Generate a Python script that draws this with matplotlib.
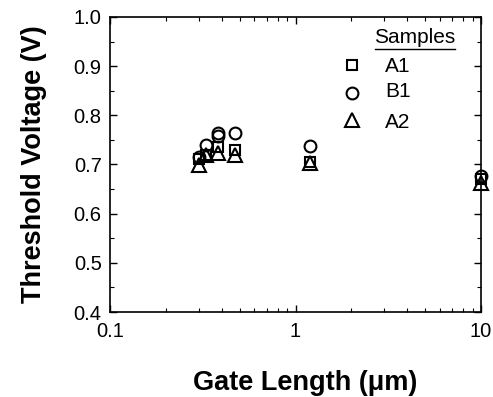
import matplotlib
matplotlib.use("Agg")
import matplotlib.pyplot as plt
from matplotlib.ticker import LogLocator, MultipleLocator, FixedLocator, FixedFormatter, NullFormatter

plt.rcParams['font.family'] = ['Liberation Sans', 'DejaVu Sans']

# Data (gate length in um, threshold voltage in V)
len_A1 = [0.30, 0.33, 0.38, 0.47, 1.2, 10]
vth_A1 = [0.712, 0.720, 0.735, 0.730, 0.705, 0.670]
len_B1 = [0.30, 0.33, 0.38, 0.38, 0.47, 1.2, 10]
vth_B1 = [0.716, 0.740, 0.765, 0.757, 0.765, 0.738, 0.676]
len_A2 = [0.30, 0.33, 0.38, 0.47, 1.2, 10]
vth_A2 = [0.699, 0.719, 0.723, 0.720, 0.703, 0.663]

sample_names = ["A1", "B1", "A2"]
x_ticks = [0.1, 1, 10]
x_ticklabels = ["0.1", "1", "10"]
y_ticks = [0.4, 0.5, 0.6, 0.7, 0.8, 0.9, 1.0]

fig = plt.figure(figsize=(4.93, 3.97), dpi=100)
ax = fig.add_axes([0.2231, 0.2141, 0.7526, 0.7431])

mk = dict(linestyle='none', markerfacecolor='none', markeredgecolor='black',
          markeredgewidth=1.5, clip_on=False)
ax.plot(len_A1, vth_A1, marker='s', markersize=7.5, **mk)
ax.plot(len_B1, vth_B1, marker='o', markersize=8.5, **mk)
ax.plot(len_A2, vth_A2, marker='^', markersize=10, **mk)

ax.set_xscale('log')
ax.set_xlim(0.1, 10)
ax.set_ylim(0.4, 1.0)
ax.xaxis.set_major_locator(FixedLocator(x_ticks))
ax.xaxis.set_major_formatter(FixedFormatter(x_ticklabels))
ax.xaxis.set_minor_locator(LogLocator(base=10, subs=range(2, 10)))
ax.xaxis.set_minor_formatter(NullFormatter())
ax.yaxis.set_major_locator(FixedLocator(y_ticks))
ax.yaxis.set_major_formatter(plt.FuncFormatter(lambda v, p: f"{v:.1f}"))
ax.yaxis.set_minor_locator(MultipleLocator(0.05))

ax.tick_params(which='both', direction='in', top=True, right=True, labelsize=14.5)
ax.tick_params(axis='x', pad=7)
ax.tick_params(axis='y', pad=6)
ax.tick_params(which='major', length=5, width=1)
ax.tick_params(which='minor', length=3, width=0.8)
for s in ax.spines.values():
    s.set_linewidth(1.2)

ax.set_xlabel("Gate Length (\u03bcm)", fontsize=19.5, fontweight='bold')
ax.xaxis.set_label_coords(0.526, -0.195)
ax.set_ylabel("Threshold Voltage (V)", fontsize=19.5, fontweight='bold', labelpad=19)

# Manual legend
ax.text(0.822, 0.929, "Samples", transform=ax.transAxes, fontsize=15,
        ha='center', va='center')
ax.plot([0.714, 0.930], [0.893, 0.893], transform=ax.transAxes, color='black', linewidth=1)
leg_markers = ['s', 'o', '^']
leg_sizes = [7.5, 8.5, 10]
leg_marker_y = [0.837, 0.742, 0.651]
leg_text_y = [0.831, 0.746, 0.644]
for name, m, ms, my, ty in zip(sample_names, leg_markers, leg_sizes, leg_marker_y, leg_text_y):
    ax.plot([0.652], [my], transform=ax.transAxes, marker=m, markersize=ms, **mk)
    ax.text(0.741, ty, name, transform=ax.transAxes, fontsize=15, ha='left', va='center')

fig.savefig("out.png", dpi=100)
